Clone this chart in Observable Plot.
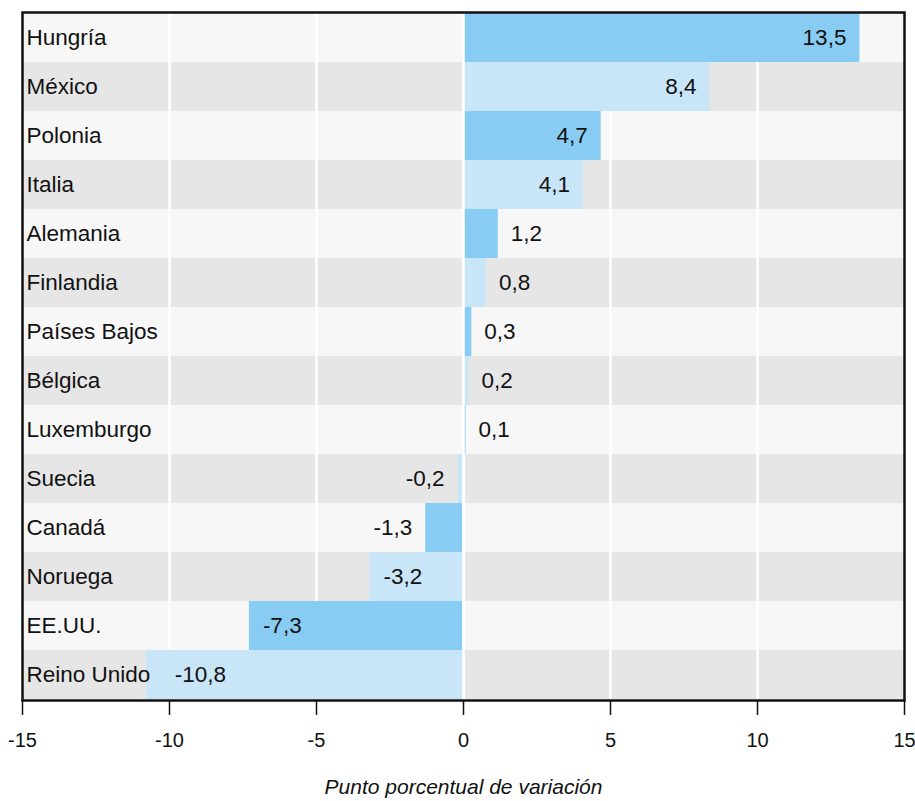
<!DOCTYPE html>
<html>
<head>
<meta charset="utf-8">
<script src="https://cdn.jsdelivr.net/npm/d3@7"></script>
<script src="https://cdn.jsdelivr.net/npm/@observablehq/plot@0.6"></script>
<style>
  html, body { margin: 0; padding: 0; background: #ffffff; }
  #chart svg { display: block; }
</style>
</head>
<body>
<div id="chart"></div>
<script>
// Cambio en puntos porcentuales por país
const countries = ["Hungría", "México", "Polonia", "Italia", "Alemania", "Finlandia", "Países Bajos",
  "Bélgica", "Luxemburgo", "Suecia", "Canadá", "Noruega", "EE.UU.", "Reino Unido"];
const changes = [13.5, 8.4, 4.7, 4.1, 1.2, 0.8, 0.3, 0.2, 0.1, -0.2, -1.3, -3.2, -7.3, -10.8];
const xTicks = [-15, -10, -5, 0, 5, 10, 15];
const gridValues = [-10, -5, 0, 5, 10];
const axisTitle = "Punto porcentual de variación";

const rows = countries.map((name, i) => ({name, value: changes[i], i}));

const FONT = "'Liberation Sans', Arial, Helvetica, sans-serif";
const LABEL_SIZE = 22.5;
const TICK_SIZE = 20;
const barDark = "#88ccf4";
const barLight = "#c9e5f8";
const rowLight = "#f7f7f7";
const rowDark = "#e6e6e6";

const fmt = v => String(v).replace(".", ",");
const insideLimit = 3;     // bars longer than this carry their label inside
const labelFloor = -10.3;  // keep inner labels clear of the country names

const inside = rows.filter(d => Math.abs(d.value) >= insideLimit);
const outside = rows.filter(d => Math.abs(d.value) < insideLimit);

const chart = Plot.plot({
  width: 915,
  height: 801,
  marginLeft: 22,
  marginRight: 11,
  marginTop: 12,
  marginBottom: 101,
  style: {fontFamily: FONT, fontSize: TICK_SIZE + "px", color: "#111", background: "#ffffff"},
  x: {domain: [-15, 15]},
  y: {domain: countries, padding: 0, axis: null},
  marks: [
    // alternating row bands
    Plot.barX(rows, {x1: -15, x2: 15, y: "name", fill: d => d.i % 2 ? rowDark : rowLight}),
    Plot.ruleX(gridValues, {stroke: "#ffffff", strokeWidth: 2.5}),
    Plot.barX(rows, {
      x1: 0, x2: "value", y: "name",
      fill: d => d.i % 2 ? barLight : barDark,
      insetLeft: 0.5, insetRight: 0.5
    }),
    Plot.ruleX([0], {stroke: "#ffffff", strokeWidth: 2.5}),
    // country names
    Plot.text(rows, {
      y: "name", text: "name", frameAnchor: "left", textAnchor: "start", dx: 4,
      fill: "#111", fontSize: LABEL_SIZE
    }),
    // value labels inside long bars
    Plot.text(inside.filter(d => d.value > 0), {
      x: "value", y: "name", text: d => fmt(d.value), textAnchor: "end", dx: -14,
      fill: "#111", fontSize: LABEL_SIZE
    }),
    Plot.text(inside.filter(d => d.value < 0), {
      x: d => Math.max(d.value, labelFloor), y: "name", text: d => fmt(d.value), textAnchor: "start", dx: 14,
      fill: "#111", fontSize: LABEL_SIZE
    }),
    // value labels beside short bars
    Plot.text(outside.filter(d => d.value > 0), {
      x: "value", y: "name", text: d => fmt(d.value), textAnchor: "start", dx: 12,
      fill: "#111", fontSize: LABEL_SIZE
    }),
    Plot.text(outside.filter(d => d.value < 0), {
      x: "value", y: "name", text: d => fmt(d.value), textAnchor: "end", dx: -13,
      fill: "#111", fontSize: LABEL_SIZE
    }),
    Plot.frame({stroke: "#111", strokeWidth: 2.5}),
    Plot.axisX({
      ticks: xTicks, tickFormat: d => String(d), tickSize: 15, tickPadding: 17,
      stroke: "#111", strokeWidth: 1.5, fill: "#111", fontSize: TICK_SIZE, label: null
    }),
    Plot.text([axisTitle], {
      frameAnchor: "bottom", dy: 93, fontStyle: "italic", fontSize: 21, fill: "#111", text: d => d
    })
  ]
});

document.getElementById("chart").appendChild(chart);
</script>
</body>
</html>
